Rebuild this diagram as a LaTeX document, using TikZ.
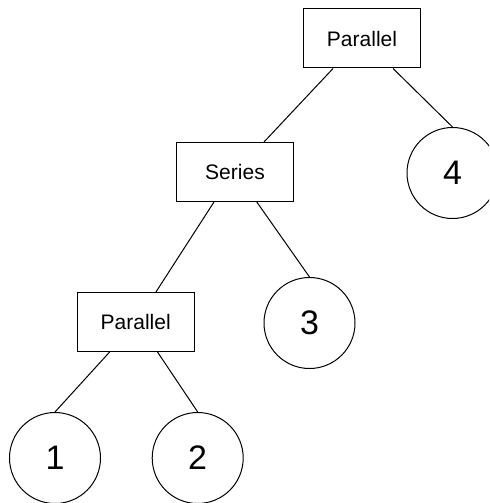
\documentclass[tikz,border=0pt]{standalone}
\usepackage{fontspec}
\setmainfont{Liberation Sans}

\begin{document}
\begin{tikzpicture}[
    x=0.75pt, y=-0.75pt, line width=0.75pt,
    op/.style={draw, rectangle, minimum width=87.75pt, minimum height=44.25pt,
        inner sep=0pt, font=\fontsize{15.75}{18}\selectfont},
    leaf/.style={draw, circle, minimum size=68.25pt, inner sep=0pt,
        font=\fontsize{25.5}{30}\selectfont}
]

\clip (0,0) rectangle (489,503);

% Operators
\node[op] (par1) at (362,38.5) {Parallel};
\node[op] (ser) at (235,172) {Series};
\node[op] (par2) at (135.7,322) {Parallel};

% Leaves
\node[leaf] (c4) at (452.5,173) {4};
\node[leaf] (c3) at (309.5,323) {3};
\node[leaf] (c1) at (55,458) {1};
\node[leaf] (c2) at (197.7,458) {2};

% Tree edges
\draw (par1.226) -- (ser.46);
\draw (par1.-44) -- (c4.north);
\draw (ser.235) -- (par2.56);
\draw (ser.-54) -- (c3.north);
\draw (par2.229) -- (c1.north);
\draw (par2.-54) -- (c2.north);

\end{tikzpicture}
\end{document}
